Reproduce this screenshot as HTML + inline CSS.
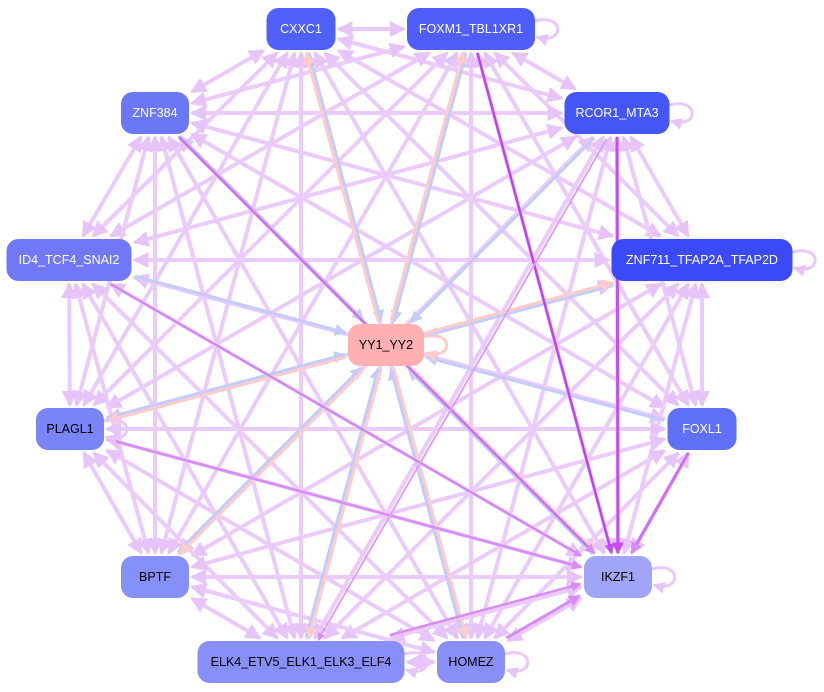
<!DOCTYPE html>
<html><head><meta charset="utf-8"><style>
body{margin:0;background:#fff;width:824px;height:692px;overflow:hidden}
svg{display:block}
text{font-family:"Liberation Sans",sans-serif;font-size:12.5px;text-anchor:middle;dominant-baseline:central}
</style></head><body>
<svg id="s" width="824" height="692" viewBox="0 0 824 692" xmlns="http://www.w3.org/2000/svg">
<defs>
<marker id="mL" markerWidth="4" markerHeight="4" refX="3.5" refY="2" orient="auto-start-reverse" markerUnits="strokeWidth"><path d="M0,0L4,2L0,4z" fill="#e6c4fa"/></marker>
<marker id="mP" markerWidth="4" markerHeight="4" refX="3.5" refY="2" orient="auto" markerUnits="strokeWidth"><path d="M0,0L4,2L0,4z" fill="#ffcccc"/></marker>
<marker id="mB" markerWidth="4" markerHeight="4" refX="3.5" refY="2" orient="auto" markerUnits="strokeWidth"><path d="M0,0L4,2L0,4z" fill="#c4ccf8"/></marker>
<marker id="mD" markerWidth="4" markerHeight="4" refX="3.5" refY="2" orient="auto" markerUnits="strokeWidth"><path d="M0,0L4,2L0,4z" fill="#c84cf4"/></marker>
<marker id="mM" markerWidth="4" markerHeight="4" refX="3.5" refY="2" orient="auto" markerUnits="strokeWidth"><path d="M0,0L4,2L0,4z" fill="#d88cf8"/></marker>
</defs>
<g id="e"></g>
<g id="n"></g>
</svg>
<script>
var N={CXXC1:[301,29,69,'#5060fa',1],FOXM1_TBL1XR1:[471,29,128,'#4f5efa',1],RCOR1_MTA3:[617,113,105,'#4556f6',1],ZNF384:[155,113,68,'#6a78f8',1],ID4_TCF4_SNAI2:[69,260,125,'#7078f8',1],ZNF711_TFAP2A_TFAP2D:[702,260,181,'#3a4af8',1],YY1_YY2:[386,345,76,'#ffb0b0',0],PLAGL1:[70,429,68,'#7a85f8',0],FOXL1:[702,429,69,'#6070f8',1],BPTF:[155,577,68,'#8590f8',0],IKZF1:[618,577,68,'#a0a5f8',0],ELK4_ETV5_ELK1_ELK3_ELF4:[301,662,207,'#8790f8',0],HOMEZ:[471,662,68,'#8890f8',0]};
var outer=Object.keys(N).filter(k=>k!='YY1_YY2');
var E=document.getElementById('e'),G=document.getElementById('n'),ns='http://www.w3.org/2000/svg';
function clip(a,b){var dx=b[0]-a[0],dy=b[1]-a[1],hw=b[2]/2+3,hh=24;var t=Math.min(Math.abs(dx)>0?hw/Math.abs(dx):9,Math.abs(dy)>0?hh/Math.abs(dy):9);return [b[0]-dx*t,b[1]-dy*t];}
function line(a,b,col,m,w,off,both){var A=N[a],B=N[b];var dx=B[0]-A[0],dy=B[1]-A[1],L=Math.hypot(dx,dy),ox=-dy/L*off,oy=dx/L*off;
var p=clip([B[0]+ox,B[1]+oy,B[2]],[A[0]+ox,A[1]+oy,A[2]]),q=clip([A[0]+ox,A[1]+oy,A[2]],[B[0]+ox,B[1]+oy,B[2]]);
var l=document.createElementNS(ns,'line');l.setAttribute('x1',p[0]);l.setAttribute('y1',p[1]);l.setAttribute('x2',q[0]);l.setAttribute('y2',q[1]);l.setAttribute('stroke',col);l.setAttribute('stroke-width',w);l.setAttribute('marker-end','url(#'+m+')');if(both)l.setAttribute('marker-start','url(#'+m+')');E.appendChild(l);}
for(var i=0;i<outer.length;i++)for(var j=i+1;j<outer.length;j++){line(outer[i],outer[j],'#ebcbfb','mL',4,0,1);}
var toY={CXXC1:1,FOXM1_TBL1XR1:1,RCOR1_MTA3:0,ZNF384:0,ID4_TCF4_SNAI2:0,FOXL1:0,PLAGL1:1,BPTF:1,ELK4_ETV5_ELK1_ELK3_ELF4:1,HOMEZ:1,IKZF1:1,ZNF711_TFAP2A_TFAP2D:1};
for(var k in toY){line(k,'YY1_YY2','#c4ccf8','mB',3,-1.5);if(toY[k])line('YY1_YY2',k,'#ffcccc','mP',3,-1.5);}
line('FOXM1_TBL1XR1','IKZF1','#c040f8','mD',2.5,0);
line('RCOR1_MTA3','IKZF1','#c84cf4','mD',3,0);
line('ZNF384','IKZF1','#d070f0','mM',2.5,0);
line('ID4_TCF4_SNAI2','IKZF1','#d080f4','mM',2,0);
line('PLAGL1','IKZF1','#d88cf8','mM',2.5,0);
line('FOXL1','IKZF1','#d070f8','mM',3,0);
line('HOMEZ','IKZF1','#d88cf8','mM',3,-3);
line('ELK4_ETV5_ELK1_ELK3_ELF4','IKZF1','#d88cf8','mM',2.5,-3);
line('RCOR1_MTA3','ELK4_ETV5_ELK1_ELK3_ELF4','#dca0f8','mM',2,-4);
for(var k in N){var v=N[k];
if(k!='YY1_YY2'&&k!='CXXC1'&&k!='ZNF384'&&k!='ID4_TCF4_SNAI2'&&k!='BPTF'&&k!='FOXL1'){var p=document.createElementNS(ns,'path');var x=v[0]+v[2]/2,y=v[1];p.setAttribute('d','M'+x+','+(y-8)+' C'+(x+30)+','+(y-16)+' '+(x+30)+','+(y+16)+' '+(x+2)+','+(y+8));p.setAttribute('fill','none');p.setAttribute('stroke','#ebc8fa');p.setAttribute('stroke-width',3);p.setAttribute('marker-end','url(#mL)');E.appendChild(p);}
}
(function(){var v=N.YY1_YY2,x=v[0]+38,y=v[1],p=document.createElementNS(ns,'path');p.setAttribute('d','M'+x+','+(y-8)+' C'+(x+30)+','+(y-16)+' '+(x+30)+','+(y+16)+' '+(x+2)+','+(y+8));p.setAttribute('fill','none');p.setAttribute('stroke','#ffcccc');p.setAttribute('stroke-width',3);p.setAttribute('marker-end','url(#mP)');E.appendChild(p);})();
for(var k in N){var v=N[k];var r=document.createElementNS(ns,'rect');r.setAttribute('x',v[0]-v[2]/2);r.setAttribute('y',v[1]-21);r.setAttribute('width',v[2]);r.setAttribute('height',42);r.setAttribute('rx',12);r.setAttribute('fill',v[3]);G.appendChild(r);
var t=document.createElementNS(ns,'text');t.setAttribute('x',v[0]);t.setAttribute('y',v[1]);t.setAttribute('fill',v[4]?'#fff':'#000');t.textContent=k;G.appendChild(t);}
</script>
</body></html>
